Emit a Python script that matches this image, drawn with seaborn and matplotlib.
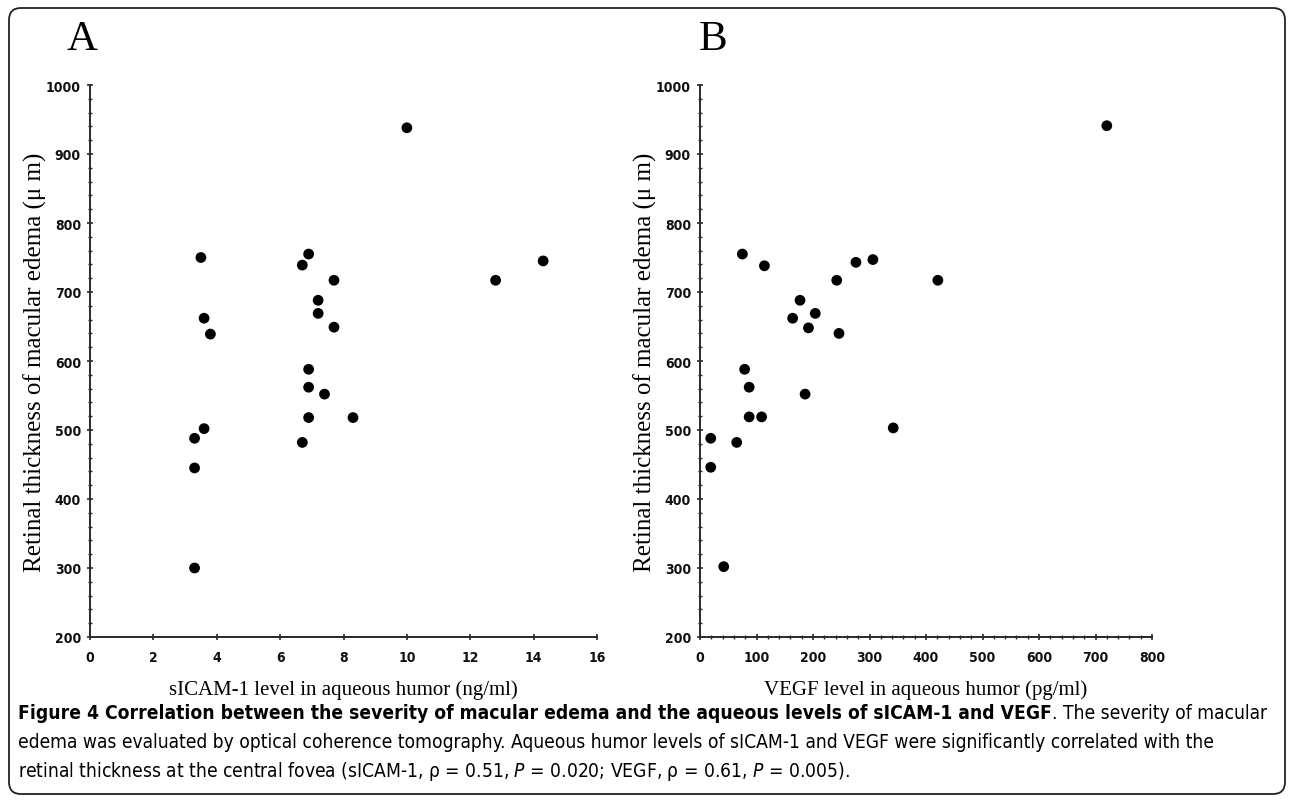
import numpy as np
import pandas as pd
import matplotlib
matplotlib.use("Agg")
import matplotlib.pyplot as plt
from matplotlib.patches import FancyBboxPatch
from matplotlib.transforms import IdentityTransform
from matplotlib.ticker import MultipleLocator
import seaborn as sns

# ---- data ----
sicam_x = [10, 3.5, 6.9, 6.7, 7.7, 12.8, 14.3, 7.2, 7.2, 3.6, 7.7, 3.8, 6.9, 6.9,
           7.4, 6.9, 8.3, 3.6, 3.3, 6.7, 3.3, 3.3]
sicam_y = [938, 750, 755, 739, 717, 717, 745, 688, 669, 662, 649, 639, 588, 562,
           552, 518, 518, 502, 488, 482, 445, 300]
vegf_x = [720, 75, 114, 276, 306, 242, 421, 177, 204, 164, 192, 246, 79, 87,
          186, 87, 109, 342, 19, 65, 19, 42]
vegf_y = [941, 755, 738, 743, 747, 717, 717, 688, 669, 662, 648, 640, 588, 562,
          552, 519, 519, 503, 488, 482, 446, 302]

panel_letters = ["A", "B"]
x_labels = ["sICAM-1 level in aqueous humor (ng/ml)", "VEGF level in aqueous humor (pg/ml)"]
y_label = "Retinal thickness of macular edema (\u03bc m)"
caption_bold = "Figure 4 Correlation between the severity of macular edema and the aqueous levels of sICAM-1 and VEGF"
caption_rest1 = ". The severity of macular"
caption_line2 = ("edema was evaluated by optical coherence tomography. Aqueous humor levels of sICAM-1 and VEGF "
                 "were significantly correlated with the")
caption_line3 = ("retinal thickness at the central fovea (sICAM-1, \u03c1 = 0.51, $\\it{P}$ = 0.020; VEGF, "
                 "\u03c1 = 0.61, $\\it{P}$ = 0.005).")

df_a = pd.DataFrame({"x": sicam_x, "y": sicam_y})
df_b = pd.DataFrame({"x": vegf_x, "y": vegf_y})

sns.set_style("ticks")
plt.rcParams["font.family"] = ["DejaVu Sans"]
plt.rcParams["font.stretch"] = "condensed"
plt.rcParams["text.color"] = "black"
plt.rcParams["mathtext.fontset"] = "custom"
plt.rcParams["mathtext.it"] = "DejaVu Sans:italic"
plt.rcParams["mathtext.rm"] = "DejaVu Sans"

W, H = 1293, 803
fig = plt.figure(figsize=(W / 100, H / 100), dpi=100)
fig.patch.set_facecolor("white")

def px_rect(l, r, b, t):
    return [l / W, (H - b) / H, (r - l) / W, (b - t) / H]

ax_a = fig.add_axes(px_rect(90, 597, 638, 86))
ax_b = fig.add_axes(px_rect(700, 1152, 638, 86))

serif = ["Liberation Serif", "DejaVu Serif"]
sansc = ["DejaVu Sans"]

for ax, df, xlim, xmaj, xmin, xl, letter, lx, wpx in [
        (ax_a, df_a, (0, 16), 2, None, x_labels[0], panel_letters[0], 82, 507),
        (ax_b, df_b, (0, 800), 100, 20, x_labels[1], panel_letters[1], 713, 452)]:
    sns.scatterplot(data=df, x="x", y="y", ax=ax, color="black", s=60,
                    edgecolor="none", linewidth=0, zorder=3, clip_on=False)
    ax.set_xlim(*xlim)
    ax.set_ylim(200, 1000)
    ax.xaxis.set_major_locator(MultipleLocator(xmaj))
    if xmin:
        ax.xaxis.set_minor_locator(MultipleLocator(xmin))
    ax.yaxis.set_major_locator(MultipleLocator(100))
    ax.yaxis.set_minor_locator(MultipleLocator(20))
    for side in ["top", "right"]:
        ax.spines[side].set_visible(False)
    for side in ["left", "bottom"]:
        ax.spines[side].set_linewidth(1.4)
        ax.spines[side].set_color("#2a2a2a")
    ax.tick_params(which="major", direction="inout", length=5, width=1.2,
                   color="#2a2a2a")
    ax.tick_params(axis="x", which="major", pad=7)
    ax.tick_params(axis="y", which="major", pad=4)
    ax.tick_params(which="minor", direction="inout", length=3, width=1.0,
                   color="#2a2a2a")
    for lab in ax.get_xticklabels() + ax.get_yticklabels():
        lab.set_family(sansc)
        lab.set_fontstretch("condensed")
        lab.set_fontweight("bold")
        lab.set_fontsize(10)
        lab.set_color("#111111")
    ax.set_xlabel(xl, family=serif, fontsize=15, color="black")
    ax.xaxis.set_label_coords(0.5, -42 / 552)
    ax.set_ylabel(y_label, family=serif, fontsize=18, color="black")
    ax.yaxis.set_label_coords(-43 / wpx, 0.5)
    ax.set_facecolor("white")
    fig.text(lx / W, (H - 40) / H, letter, family=serif, fontsize=31,
             ha="center", va="center", color="black")

# caption
cap_fs = 13.8
t1 = fig.text(18 / W, (H - 714) / H, caption_bold, fontweight="bold", fontsize=cap_fs,
              ha="left", va="center", family=sansc, fontstretch="condensed", color="black")
ax_a.annotate(caption_rest1, xy=(1, 0.5), xycoords=t1, ha="left", va="center",
              fontsize=cap_fs, family=sansc, fontstretch="condensed",
              annotation_clip=False, color="black")
fig.text(18 / W, (H - 743) / H, caption_line2, fontsize=cap_fs, ha="left", va="center",
         family=sansc, fontstretch="condensed", color="black")
fig.text(18 / W, (H - 772) / H, caption_line3, fontsize=cap_fs, ha="left", va="center",
         family=sansc, fontstretch="condensed", color="black")

# rounded frame
frame = FancyBboxPatch((9, H - 795), 1276, 786, boxstyle="round,pad=0,rounding_size=12",
                       transform=IdentityTransform(), fill=False, edgecolor="#222222",
                       linewidth=1.3)
fig.patches.append(frame)

fig.savefig("out.png", dpi=100, facecolor="white")
